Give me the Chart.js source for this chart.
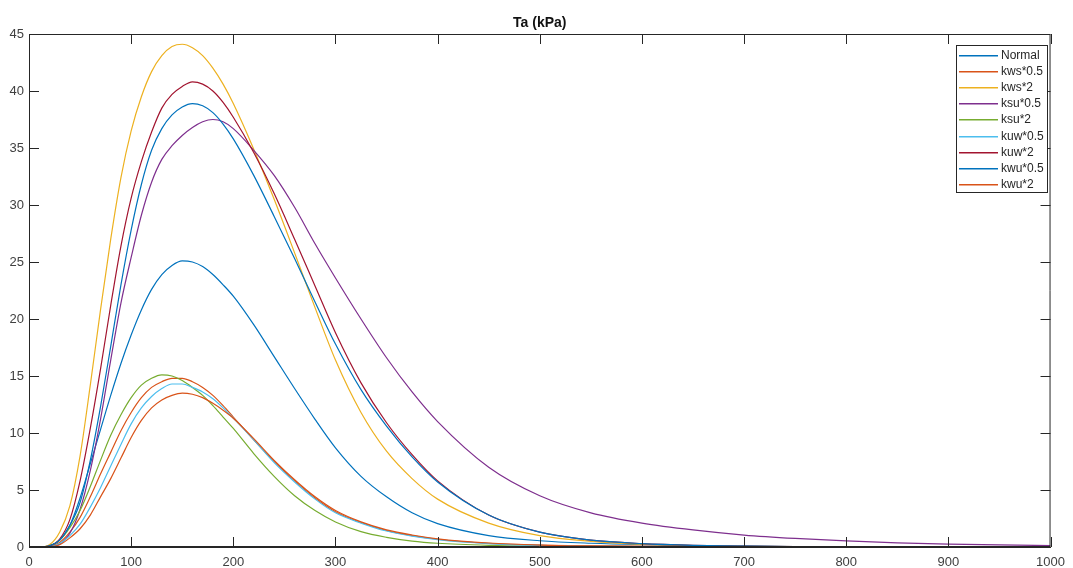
<!DOCTYPE html>
<html>
<head>
<meta charset="utf-8">
<script src="https://cdn.jsdelivr.net/npm/chart.js@4.4.1/dist/chart.umd.min.js"></script>
<style>
  html, body { margin: 0; padding: 0; background: #fff; }
  #wrap { width: 1073px; height: 568px; }
</style>
</head>
<body>
<div id="wrap"><canvas id="taChart" width="1073" height="568"></canvas></div>
<script>
const xs = [0, 10, 20, 30, 40, 50, 60, 70, 80, 90, 100, 110, 120, 130, 140, 150, 160, 170, 180, 190, 200,
            220, 240, 260, 280, 300, 325, 350, 375, 400, 450, 500, 550, 600, 650, 700, 750, 800, 850, 900, 950, 1000];

const normal  = [0, 0, 0.1, 0.6, 1.9, 4.3, 7.3, 10.3, 13.3, 16.1, 18.6, 20.8, 22.6, 23.9, 24.7, 25.1, 25.0, 24.6, 23.9, 23.0, 22.0,
                 19.5, 16.7, 13.9, 11.2, 8.7, 6.2, 4.4, 3.0, 2.05, 1.0, 0.55, 0.33, 0.2, 0.12, 0.07, 0.04, 0.02, 0.01, 0.01, 0, 0];
const kws05   = [0, 0, 0.05, 0.4, 1.3, 2.6, 4.4, 6.4, 8.3, 10.2, 11.8, 13.1, 14.0, 14.5, 14.8, 14.8, 14.5, 14.0, 13.3, 12.4, 11.4,
                 9.4, 7.5, 5.8, 4.3, 3.1, 2.15, 1.45, 1.0, 0.68, 0.32, 0.16, 0.09, 0.05, 0.03, 0.02, 0.01, 0, 0, 0, 0, 0];
const kws2    = [0, 0, 0.2, 1.3, 3.6, 8.0, 14.2, 20.8, 27.0, 32.4, 36.5, 39.5, 41.7, 43.1, 43.9, 44.1, 43.8, 43.1, 42.0, 40.6, 38.9,
                 34.9, 30.5, 25.8, 21.0, 16.4, 11.8, 8.4, 6.0, 4.2, 2.1, 1.0, 0.5, 0.25, 0.12, 0.06, 0.03, 0.02, 0.01, 0.01, 0, 0];
const ksu05   = [0, 0, 0.05, 0.25, 1.2, 3.3, 6.7, 11.2, 16.4, 21.4, 25.4, 29.1, 32.0, 34.0, 35.2, 36.1, 36.8, 37.3, 37.5, 37.3, 36.7,
                 34.8, 32.6, 29.8, 26.6, 23.6, 20.0, 16.6, 13.6, 11.0, 7.0, 4.5, 3.0, 2.1, 1.5, 1.05, 0.75, 0.53, 0.37, 0.26, 0.18, 0.13];
const ksu2    = [0, 0, 0.1, 0.6, 1.7, 3.2, 5.3, 7.6, 9.8, 11.6, 13.1, 14.2, 14.8, 15.1, 15.0, 14.6, 14.0, 13.3, 12.4, 11.4, 10.4,
                 8.2, 6.2, 4.5, 3.2, 2.2, 1.35, 0.85, 0.52, 0.33, 0.15, 0.07, 0.03, 0.02, 0.01, 0, 0, 0, 0, 0, 0, 0];
const kuw05   = [0, 0, 0.03, 0.3, 1.0, 2.0, 3.5, 5.2, 7.1, 9.0, 10.8, 12.2, 13.2, 13.9, 14.3, 14.3, 14.0, 13.6, 13.0, 12.2, 11.3,
                 9.4, 7.4, 5.7, 4.2, 3.0, 2.1, 1.4, 0.95, 0.65, 0.3, 0.14, 0.07, 0.03, 0.02, 0.01, 0, 0, 0, 0, 0, 0];
const kuw2    = [0, 0, 0.1, 0.7, 2.4, 5.8, 10.4, 15.6, 21.2, 26.4, 30.6, 33.8, 36.4, 38.5, 39.7, 40.4, 40.8, 40.6, 40.0, 39.0, 37.7,
                 34.6, 31.0, 27.0, 22.9, 18.8, 14.4, 10.9, 8.1, 5.8, 2.8, 1.3, 0.6, 0.3, 0.15, 0.08, 0.04, 0.02, 0.01, 0.01, 0, 0];
const kwu05   = [0, 0, 0.1, 0.6, 1.9, 3.9, 7.6, 12.3, 17.6, 23.0, 27.8, 31.8, 34.8, 36.7, 37.9, 38.6, 38.9, 38.7, 38.1, 37.1, 35.8,
                 32.6, 29.0, 25.3, 21.5, 17.8, 13.8, 10.6, 7.9, 5.7, 2.8, 1.3, 0.6, 0.3, 0.15, 0.08, 0.04, 0.02, 0.01, 0.01, 0, 0];
const kwu2    = [0, 0, 0.02, 0.2, 0.8, 1.6, 2.8, 4.4, 6.0, 7.8, 9.6, 11.1, 12.2, 12.9, 13.3, 13.5, 13.4, 13.1, 12.6, 12.0, 11.3,
                 9.5, 7.6, 5.9, 4.4, 3.2, 2.2, 1.5, 1.05, 0.72, 0.35, 0.17, 0.09, 0.05, 0.03, 0.02, 0.01, 0, 0, 0, 0, 0];

const seriesNames = ["Normal", "kws*0.5", "kws*2", "ksu*0.5", "ksu*2", "kuw*0.5", "kuw*2", "kwu*0.5", "kwu*2"];
const seriesData = [normal, kws05, kws2, ksu05, ksu2, kuw05, kuw2, kwu05, kwu2];
const seriesColors = ["#0072BD", "#D95319", "#EDB120", "#7E2F8E", "#77AC30", "#4DBEEE", "#A2142F", "#0072BD", "#D95319"];

const xTicks = [0, 100, 200, 300, 400, 500, 600, 700, 800, 900, 1000];
const yTicks = [0, 5, 10, 15, 20, 25, 30, 35, 40, 45];

const axisColor = "#262626";
const fontFamily = "Arial, 'Liberation Sans', Helvetica, sans-serif";

const datasets = seriesNames.map((name, i) => ({
    label: name,
    data: xs.map((x, j) => ({ x: x, y: seriesData[i][j] })),
    borderColor: seriesColors[i],
    backgroundColor: seriesColors[i],
    borderWidth: 1.2,
    pointRadius: 0,
    cubicInterpolationMode: "monotone",
    fill: false,
    order: seriesNames.length - i   // later series drawn on top, like matlab
}));

// box, inward ticks, title and legend in matlab style
const matlabFrame = {
    id: "matlabFrame",
    afterDraw(chart) {
        const c = chart.ctx;
        const a = chart.chartArea;
        const sx = chart.scales.x, sy = chart.scales.y;
        c.save();
        c.strokeStyle = axisColor;
        c.lineWidth = 1;
        c.beginPath();
        c.rect(a.left + 0.5, a.top + 0.5, a.right - a.left - 1, a.bottom - a.top - 1);
        xTicks.forEach(v => {
            const px = Math.round(sx.getPixelForValue(v)) + 0.5;
            c.moveTo(px, a.bottom); c.lineTo(px, a.bottom - 10);
            c.moveTo(px, a.top); c.lineTo(px, a.top + 10);
        });
        yTicks.forEach(v => {
            const py = Math.round(sy.getPixelForValue(v)) + 0.5;
            c.moveTo(a.left, py); c.lineTo(a.left + 10, py);
            c.moveTo(a.right, py); c.lineTo(a.right - 10, py);
        });
        c.stroke();

        // title
        c.fillStyle = "#111";
        c.font = "bold 14px " + fontFamily;
        c.textAlign = "center";
        c.textBaseline = "middle";
        c.fillText("Ta (kPa)", (a.left + a.right) / 2, 23);

        // legend
        const lx = 956, ly = 45, lw = 91, lh = 147;
        c.fillStyle = "#fff";
        c.fillRect(lx, ly, lw, lh);
        c.strokeStyle = axisColor;
        c.lineWidth = 1;
        c.strokeRect(lx + 0.5, ly + 0.5, lw, lh);
        c.font = "12px " + fontFamily;
        c.textAlign = "left";
        chart.data.datasets.forEach((ds, i) => {
            const y = Math.round(ly + 10 + i * 16.1);
            c.fillStyle = ds.borderColor;
            c.fillRect(lx + 3, y, 39, 1.5);
            c.fillStyle = axisColor;
            c.fillText(ds.label, lx + 45, y + 1);
        });
        c.restore();
    }
};

new Chart(document.getElementById("taChart"), {
    type: "line",
    data: { datasets: datasets },
    options: {
        responsive: false,
        animation: false,
        devicePixelRatio: 1,
        layout: { padding: { top: 34, right: 15, left: 0, bottom: 0 } },
        plugins: {
            legend: { display: false },
            title: { display: false },
            tooltip: { enabled: false }
        },
        scales: {
            x: {
                type: "linear",
                min: 0,
                max: 1000,
                afterBuildTicks: s => { s.ticks = xTicks.map(v => ({ value: v })); },
                afterFit: s => { s.height = 21; },
                grid: { display: false, drawTicks: false },
                border: { display: true, color: axisColor, width: 1 },
                ticks: {
                    autoSkip: false,
                    maxRotation: 0,
                    padding: 8,
                    color: "#404040",
                    font: { family: fontFamily, size: 13 },
                    callback: v => String(v)
                }
            },
            y: {
                type: "linear",
                min: 0,
                max: 45,
                afterBuildTicks: s => { s.ticks = yTicks.map(v => ({ value: v })); },
                afterFit: s => { s.width = 29; },
                grid: { display: false, drawTicks: false },
                border: { display: true, color: axisColor, width: 1 },
                ticks: {
                    padding: 5,
                    color: "#404040",
                    font: { family: fontFamily, size: 13 },
                    callback: v => String(v)
                }
            }
        }
    },
    plugins: [matlabFrame]
});
</script>
</body>
</html>
